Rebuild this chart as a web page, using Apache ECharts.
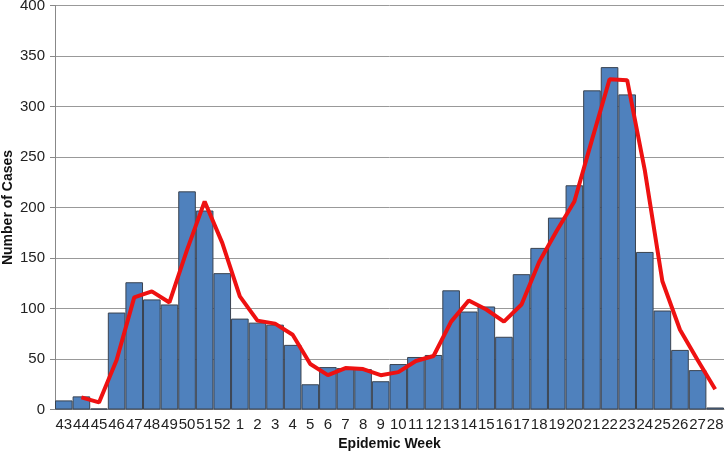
<!DOCTYPE html>
<html><head><meta charset="utf-8">
<script src="https://cdn.jsdelivr.net/npm/echarts@6/dist/echarts.min.js"></script>
<style>html,body{margin:0;padding:0;background:#fff}#c{width:725px;height:453px}</style>
</head><body><div id="c"></div>
<script>
const weeks = ['43','44','45','46','47','48','49','50','51','52','1','2','3','4','5','6','7','8','9','10','11','12','13','14','15','16','17','18','19','20','21','22','23','24','25','26','27','28'];
const cases = [9,13,1,96,126,109,104,216,197,135,90,86,84,64,25,42,41,40,28,45,52,54,118,97,102,72,134,160,190,222,316,339,312,156,98,59,39,2];
const trend = [null,12,7,49,111,117,106,158,206,165,112,88,85,74,45,34,41,40,34,37,48,53,87,108,99,87,104,146,177,206,267,327,326,237,127,79,49,20];
const yTicks = [0,50,100,150,200,250,300,350,400];

const chart = echarts.init(document.getElementById('c'));
chart.setOption({
  animation:false,
  grid:{left:55,right:1,top:5.5,bottom:43.5,containLabel:false,outerBoundsMode:'none'},
  xAxis:{type:'category',data:weeks,
    axisLine:{lineStyle:{color:'#888',width:1}},
    axisTick:{show:false},
    axisLabel:{color:'#222',fontSize:15,fontFamily:'Liberation Sans',margin:8,interval:0},
    name:'Epidemic Week',nameLocation:'middle',nameGap:28,nameMoveOverlap:false,
    nameTextStyle:{fontWeight:'bold',fontSize:14,color:'#111',fontFamily:'Liberation Sans'}},
  yAxis:{type:'value',min:yTicks[0],max:yTicks[yTicks.length-1],interval:50,
    axisLine:{show:true,lineStyle:{color:'#888',width:1}},
    axisTick:{show:true,length:5,lineStyle:{color:'#888'}},
    splitLine:{lineStyle:{color:'#999',width:1}},
    axisLabel:{color:'#222',fontSize:15,fontFamily:'Liberation Sans',margin:10},
    name:'Number of Cases',nameLocation:'middle',nameGap:40,nameMoveOverlap:false,
    nameTextStyle:{fontWeight:'bold',fontSize:14,color:'#111',fontFamily:'Liberation Sans'}},
  series:[
    {type:'bar',data:cases,barCategoryGap:'0%',
     itemStyle:{color:'#4F81BD',borderColor:'#3a4350',borderWidth:1}},
    {type:'line',data:trend,symbol:'none',connectNulls:false,
     lineStyle:{color:'#EE1111',width:4},z:5}
  ]
});
</script></body></html>
